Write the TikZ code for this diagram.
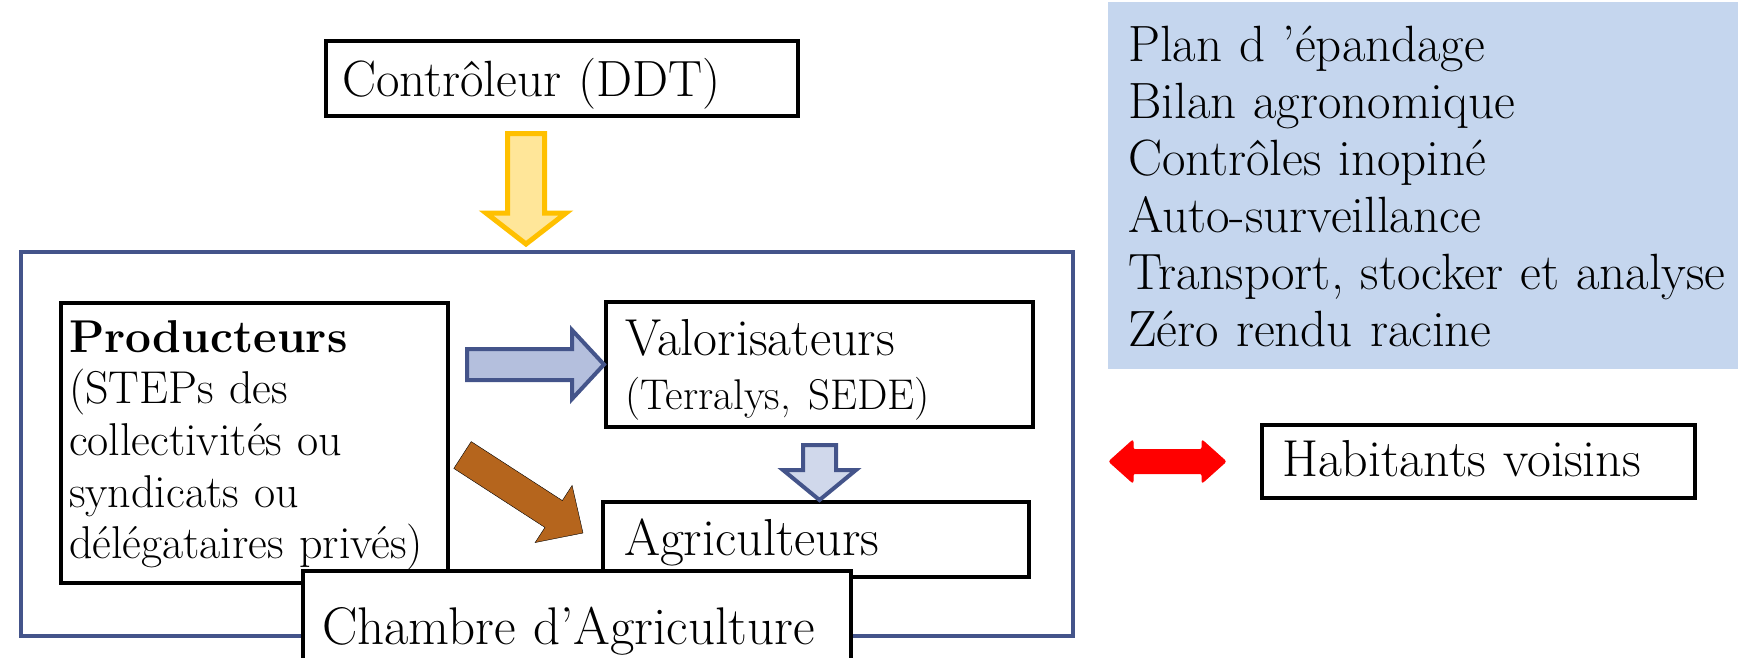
\documentclass[tikz,border=0pt]{standalone}
\usetikzlibrary{calc}

\definecolor{bleucadre}{RGB}{68,84,138}
\definecolor{bleuliste}{RGB}{197,214,238}
\definecolor{bleuclair}{RGB}{180,191,221}
\definecolor{bleupale}{RGB}{208,216,235}
\definecolor{jauneor}{RGB}{255,192,0}
\definecolor{jaunepale}{RGB}{255,230,153}
\definecolor{brun}{RGB}{181,101,29}

% grosse fleche pleine : style, depart, arrivee, demi-fut, demi-tete, long. tete
\newcommand{\grossefleche}[6]{%
  \coordinate (gf-h) at ($(#3)!#6!(#2)$);
  \draw[#1] ($(#2)!#4!90:(#3)$) -- ($(gf-h)!#4!90:(#3)$) -- ($(gf-h)!#5!90:(#3)$) -- (#3)
    -- ($(gf-h)!#5!-90:(#3)$) -- ($(gf-h)!#4!-90:(#3)$) -- ($(#2)!#4!-90:(#3)$) -- cycle;
}

\begin{document}
\begin{tikzpicture}[x=1pt,y=-1pt,
  boite/.style={draw,line width=4pt,fill=white,rectangle,anchor=north west,inner ysep=0pt,align=left},
  gros/.style={font=\fontsize{52}{54}\selectfont}]
\useasboundingbox (0,0) rectangle (1738,657);
\clip (0,0) rectangle (1738,657);

% cadre et acteurs
\node[draw=bleucadre,line width=4pt,anchor=north west,minimum width=1052,minimum height=384] (cadre) at (19,250) {};

\node[boite,minimum width=387,minimum height=280,inner xsep=8pt,text width=371pt,
  font=\fontsize{46}{51.7}\selectfont,text height=30pt,text depth=212pt] (prod) at (59,301)
  {\textbf{Producteurs}\\(STEPs des\\collectivités ou\\syndicats ou\\délégataires privés)};
\node[boite,gros,minimum width=427,minimum height=125,inner xsep=19pt,text width=389pt,
  text height=40pt,text depth=59pt] (valo) at (604,300)
  {Valorisateurs\\{\fontsize{43}{54}\selectfont(Terralys, SEDE)}};
\node[boite,gros,minimum width=426,minimum height=75,inner xsep=21pt,text width=384pt,
  text height=43pt,text depth=12pt] (agri) at (601,500) {Agriculteurs};

% fleches
\coordinate (ba) at (467,362.5);
\grossefleche{draw=bleucadre,line width=4pt,fill=bleuclair}{ba |- valo.west}{valo.west}{15.5pt}{34.5pt}{32pt}
\coordinate (bb) at ($(valo.south)+(0,16)$);
\grossefleche{draw=bleucadre,line width=4pt,fill=bleupale}{bb}{valo.south |- agri.north}{16.5pt}{36.5pt}{30pt}
\coordinate (ma) at (462.5,455);
\coordinate (mb) at (583,533);
\grossefleche{fill=brun}{ma}{mb}{16pt}{34pt}{35pt}

\node[boite,minimum width=548,minimum height=130,inner xsep=19pt,text width=510pt,
  font=\fontsize{53}{55}\selectfont,text height=36pt,text depth=20pt] (chambre) at (301,569) {Chambre d’Agriculture};

% hors cadre
\node[boite,font=\fontsize{51}{55}\selectfont,minimum width=472,minimum height=75,inner xsep=16pt,text width=440pt,
  text height=49pt,text depth=14pt] (ctrl) at (324,39) {Contrôleur (DDT)};
\coordinate (ya) at (526,133.5);
\coordinate (yb) at ($(ya |- cadre.north)+(0,-6)$);
\grossefleche{draw=jauneor,line width=5pt,fill=jaunepale}{ya}{yb}{18.5pt}{40pt}{31pt}

\node[boite,gros,minimum width=433,minimum height=73,inner xsep=20pt,text width=393pt,
  text height=41pt,text depth=12pt] (habit) at (1260,423) {Habitants voisins};
\coordinate (rc) at ($(cadre.east |- habit.west)!0.5!(habit.west)$);
\draw[fill=red,draw=red,line width=1pt,rounded corners=2pt] ($(rc)+(-58.5,0)$) -- ++(24,-21.5) -- ++(0,9.5) -- ++(69,0)
  -- ++(0,-9.5) -- ++(24,21.5) -- ++(-24,21.5) -- ++(0,-9.5) -- ++(-69,0) -- ++(0,9.5) -- cycle;

\node[fill=bleuliste,anchor=north west,align=left,minimum width=632,minimum height=367,inner xsep=20pt,inner ysep=0pt,
  text width=600pt,font=\fontsize{51}{57}\selectfont,text height=34pt,text depth=283pt] (liste) at (1108,2)
  {Plan d ’épandage\\Bilan agronomique\\Contrôles inopiné\\Auto-surveillance\\Transport, stocker et analyse\\Zéro rendu racine};
\end{tikzpicture}
\end{document}
